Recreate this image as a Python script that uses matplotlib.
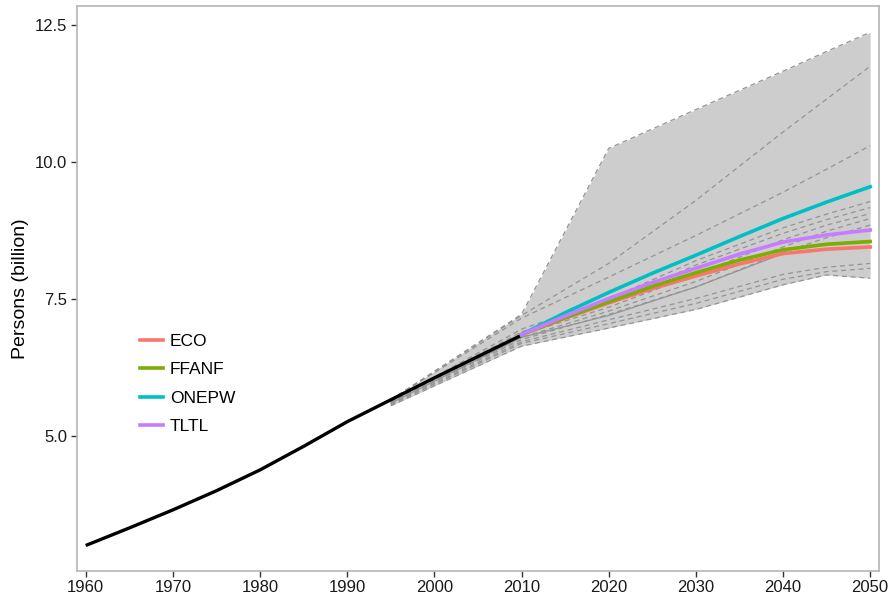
import numpy as np
import matplotlib
matplotlib.use("Agg")
import matplotlib.pyplot as plt

plt.rcParams['font.family'] = ['Liberation Sans', 'DejaVu Sans']

# Historical world population (billion persons)
hist_years = [1960, 1965, 1970, 1975, 1980, 1985, 1990, 1995, 2000, 2005, 2010]
hist_pop = [3.00, 3.32, 3.65, 4.00, 4.38, 4.81, 5.26, 5.66, 6.06, 6.45, 6.84]

# Narrative scenarios
scen_years = [2010, 2015, 2020, 2025, 2030, 2035, 2040, 2045, 2050]
scen_names = ["ECO", "FFANF", "ONEPW", "TLTL"]
eco = [6.85, 7.15, 7.43, 7.69, 7.92, 8.14, 8.33, 8.41, 8.45]
ffanf = [6.85, 7.16, 7.45, 7.73, 7.98, 8.21, 8.40, 8.50, 8.55]
onepw = [6.85, 7.25, 7.62, 7.97, 8.30, 8.64, 8.97, 9.27, 9.55]
tltl = [6.85, 7.19, 7.51, 7.80, 8.06, 8.32, 8.54, 8.67, 8.76]
scen_colors = ["#F8766D", "#7CAE00", "#00BFC4", "#C77CFF"]

# Published projections used as the reference range
proj_years = [1995, 2010, 2020, 2030, 2040, 2045, 2050]
proj_a = [5.66, 7.22, 10.25, 10.96, 11.66, 12.02, 12.37]
proj_b = [5.66, 7.20, 8.15, 9.30, 10.55, 11.15, 11.75]
proj_c = [5.66, 7.15, 7.90, 8.66, 9.45, 9.87, 10.30]
proj_d = [5.64, 6.95, 7.50, 8.20, 8.80, 9.05, 9.28]
proj_e = [5.63, 6.90, 7.42, 8.12, 8.70, 8.95, 9.17]
proj_f = [5.62, 6.85, 7.35, 7.95, 8.58, 8.85, 9.06]
proj_g = [5.61, 6.80, 7.28, 7.82, 8.45, 8.74, 8.97]
proj_h = [5.60, 6.76, 7.22, 7.72, 8.35, 8.62, 8.85]
proj_i = [5.58, 6.72, 7.12, 7.51, 7.95, 8.08, 8.15]
proj_j = [5.57, 6.69, 7.05, 7.42, 7.86, 8.00, 8.06]
proj_k = [5.55, 6.64, 6.97, 7.31, 7.76, 7.94, 7.88]
proj_dashed = [proj_a, proj_b, proj_c, proj_d, proj_e, proj_f, proj_g,
               proj_h, proj_i, proj_j, proj_k]
proj_solid = [5.60, 6.80, 7.20, 7.72, 8.33, 8.42, 8.45]

x_ticks = [1960, 1970, 1980, 1990, 2000, 2010, 2020, 2030, 2040, 2050]
y_ticks = [5.0, 7.5, 10.0, 12.5]

fig = plt.figure(figsize=(8.90, 6.02), dpi=100)
ax = fig.add_axes([0.0862, 0.052, 0.9011, 0.938])

all_proj = np.array(proj_dashed + [proj_solid])
ax.fill_between(proj_years, all_proj.min(axis=0), all_proj.max(axis=0),
                color="#cdcdcd", linewidth=0, zorder=1)
for p in proj_dashed:
    ax.plot(proj_years, p, color="#949494", lw=0.9, ls=(0, (4, 3)), zorder=2)
ax.plot(proj_years, proj_solid, color="#949494", lw=0.9, zorder=2)

ax.plot(hist_years, hist_pop, color="black", lw=2.4, solid_capstyle="butt", zorder=3)

for name, vals, col in zip(scen_names, [eco, ffanf, onepw, tltl], scen_colors):
    ax.plot(scen_years, vals, color=col, lw=2.6, label=name, zorder=4)

ax.set_xlim(1958.97, 2050.98)
ax.set_ylim(2.54, 12.85)
ax.set_xticks(x_ticks)
ax.set_yticks(y_ticks)
ax.set_yticklabels([f"{v:.1f}" for v in y_ticks])
ax.tick_params(axis="both", direction="out", length=4, width=1, color="#333333",
               labelsize=12, labelcolor="#1a1a1a", pad=3)
for s in ax.spines.values():
    s.set_color("#b5b5b5")
    s.set_linewidth(1.2)
ax.set_ylabel("Persons (billion)", fontsize=14, labelpad=4)

leg = ax.legend(loc="upper left", bbox_to_anchor=(0.079, 0.419), frameon=False,
                fontsize=12.5, handlelength=1.32, handletextpad=0.4,
                labelspacing=0.75, borderpad=0, borderaxespad=0)

fig.savefig("out.png", dpi=100)
